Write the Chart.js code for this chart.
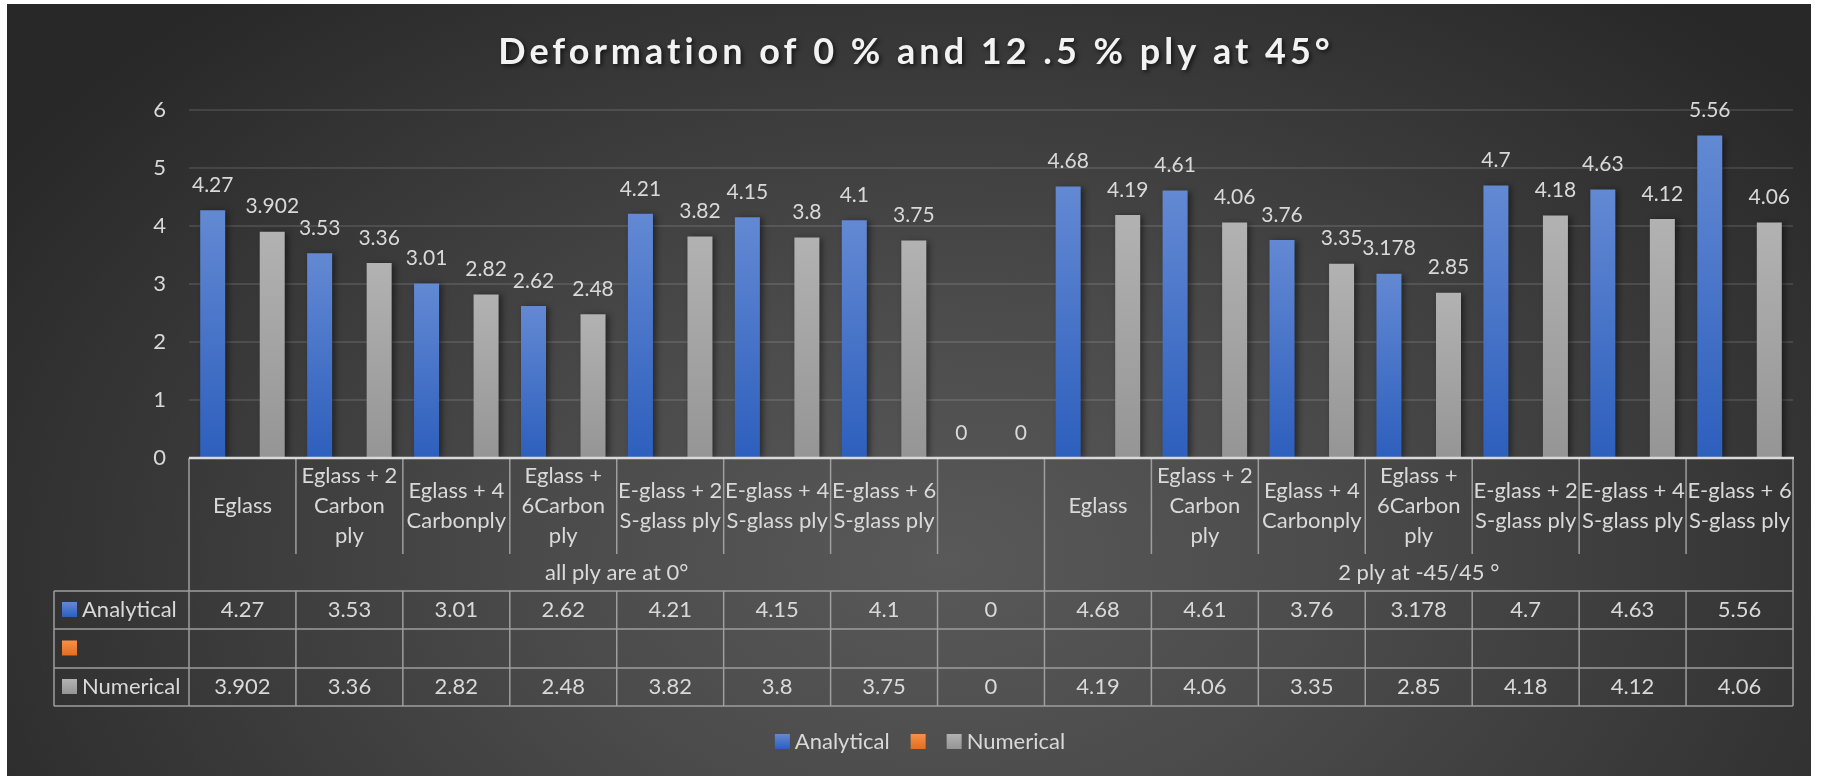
<!DOCTYPE html>
<html>
<head>
<meta charset="utf-8">
<title>Deformation chart</title>
<script src="https://cdn.jsdelivr.net/npm/chart.js"></script>
<style>
    html, body { margin: 0; padding: 0; background: #ffffff; }
    #wrap { position: relative; width: 1828px; height: 776px; overflow: hidden; }
    #panel {
        position: absolute; left: 7px; top: 4px; width: 1804px; height: 772px;
        background: radial-gradient(ellipse 62% 95% at 52% 72%, #595959 0%, #4b4b4b 35%, #383838 70%, #282828 100%);
    }
    #chart { position: absolute; left: 0; top: 0; }
</style>
</head>
<body>
<div id="wrap">
    <div id="panel"></div>
    <canvas id="chart" width="1828" height="776"></canvas>
</div>
<script>
// Chart data
const titleText = 'Deformation of 0 % and 12 .5 % ply at 45°';
const categories = [
    ['Eglass'], ['Eglass + 2', 'Carbon', 'ply'], ['Eglass + 4', 'Carbonply'], ['Eglass +', '6Carbon', 'ply'],
    ['E-glass + 2', 'S-glass ply'], ['E-glass + 4', 'S-glass ply'], ['E-glass + 6', 'S-glass ply'], [''],
    ['Eglass'], ['Eglass + 2', 'Carbon', 'ply'], ['Eglass + 4', 'Carbonply'], ['Eglass +', '6Carbon', 'ply'],
    ['E-glass + 2', 'S-glass ply'], ['E-glass + 4', 'S-glass ply'], ['E-glass + 6', 'S-glass ply']
];
const groupLabels = ['all ply are at 0°', '2 ply at -45/45 °'];
const groupSizes = [8, 7];
const analytical = [4.27, 3.53, 3.01, 2.62, 4.21, 4.15, 4.1, 0, 4.68, 4.61, 3.76, 3.178, 4.7, 4.63, 5.56];
const emptySeries = [null, null, null, null, null, null, null, null, null, null, null, null, null, null, null];
const numerical = [3.902, 3.36, 2.82, 2.48, 3.82, 3.8, 3.75, 0, 4.19, 4.06, 3.35, 2.85, 4.18, 4.12, 4.06];
const yMin = 0, yMax = 6, yStep = 1;

const FONT = 'Lato, "Open Sans", sans-serif';
const TEXT = '#d9d9d9';

// gradient colours per series: [top, bottom]
const seriesShades = [['#6389d3', '#2d5fbd'], ['#f79148', '#e46c1f'], ['#b2b2b2', '#959595']];

function barGradient(c, shades) {
    const chart = c.chart;
    const y = chart.scales.y;
    if (!y || c.raw == null) return shades[0];
    const top = y.getPixelForValue(c.raw);
    const bottom = y.getPixelForValue(0);
    if (!(bottom - top > 0)) return shades[0];
    const g = chart.ctx.createLinearGradient(0, top, 0, bottom);
    g.addColorStop(0, shades[0]);
    g.addColorStop(1, shades[1]);
    return g;
}

function swatch(ctx, x, y, size, shades) {
    const g = ctx.createLinearGradient(0, y, 0, y + size);
    g.addColorStop(0, shades[0]);
    g.addColorStop(1, shades[1]);
    ctx.fillStyle = g;
    ctx.fillRect(x, y, size, size);
}

// Title with letter spacing and soft shadow
const titlePlugin = {
    id: 'fancyTitle',
    afterDraw(chart) {
        const ctx = chart.ctx;
        ctx.save();
        ctx.font = 'bold 36px ' + FONT;
        ctx.letterSpacing = '4px';
        ctx.fillStyle = '#f2f2f2';
        ctx.textAlign = 'center';
        ctx.textBaseline = 'alphabetic';
        ctx.shadowColor = 'rgba(0,0,0,0.65)';
        ctx.shadowBlur = 4;
        ctx.shadowOffsetX = 2;
        ctx.shadowOffsetY = 2;
        ctx.fillText(titleText, 916, 64);
        ctx.restore();
    }
};

// Bar shadows + value labels above bars
const valuePlugin = {
    id: 'values',
    beforeDatasetsDraw(chart) {
        const ctx = chart.ctx;
        ctx.save();
        ctx.shadowColor = 'rgba(0,0,0,0.45)';
        ctx.shadowBlur = 6;
        ctx.shadowOffsetX = 3;
        ctx.shadowOffsetY = 1;
    },
    afterDatasetsDraw(chart) {
        const ctx = chart.ctx;
        ctx.restore();
        ctx.save();
        ctx.font = '21px ' + FONT;
        ctx.fillStyle = TEXT;
        ctx.textAlign = 'center';
        ctx.textBaseline = 'middle';
        chart.data.datasets.forEach((ds, di) => {
            const meta = chart.getDatasetMeta(di);
            meta.data.forEach((bar, i) => {
                const v = ds.data[i];
                if (v == null) return;
                ctx.fillText(String(v), bar.x, bar.y - 25);
            });
        });
        ctx.restore();
    }
};

// Excel-style data table under the plot, plus the bottom legend
const tablePlugin = {
    id: 'dataTable',
    afterDraw(chart) {
        const ctx = chart.ctx;
        const xs = chart.scales.x;
        const area = chart.chartArea;
        const n = chart.data.labels.length;
        const colW = (area.right - area.left) / n;
        const top = area.bottom;
        const catBottom = top + 96;
        const groupBottom = top + 133;
        const rowTops = [groupBottom, groupBottom + 38, groupBottom + 77, groupBottom + 115];
        const keyLeft = 54;
        const colLeft = i => xs.getPixelForValue(i) - colW / 2;

        ctx.save();
        ctx.strokeStyle = '#9e9e9e';
        ctx.lineWidth = 1.5;
        const line = (x1, y1, x2, y2) => {
            ctx.beginPath();
            ctx.moveTo(x1, y1);
            ctx.lineTo(x2, y2);
            ctx.stroke();
        };

        // category cell separators
        for (let i = 0; i <= n; i++) {
            const x = i === n ? area.right : colLeft(i);
            line(x, top, x, catBottom);
            line(x, rowTops[0], x, rowTops[3]);
        }
        // group separators
        let acc = 0;
        groupSizes.forEach(s => {
            const x = colLeft(acc);
            line(x, catBottom, x, groupBottom);
            acc += s;
        });
        line(area.right, catBottom, area.right, groupBottom);
        // series rows
        rowTops.forEach(y => line(keyLeft, y, area.right, y));
        line(keyLeft, rowTops[0], keyLeft, rowTops[3]);

        // axis line on top
        ctx.strokeStyle = '#d9d9d9';
        ctx.lineWidth = 2.5;
        line(area.left, top, area.right + 1, top);

        // category text
        ctx.fillStyle = TEXT;
        ctx.font = '22px ' + FONT;
        ctx.textAlign = 'center';
        ctx.textBaseline = 'middle';
        categories.forEach((lines, i) => {
            const cx = xs.getPixelForValue(i);
            const mid = (top + catBottom) / 2;
            lines.forEach((t, k) => {
                ctx.fillText(t, cx, mid + (k - (lines.length - 1) / 2) * 30);
            });
        });
        // group text
        acc = 0;
        groupLabels.forEach((g, gi) => {
            const x1 = colLeft(acc);
            acc += groupSizes[gi];
            const x2 = acc >= n ? area.right : colLeft(acc);
            ctx.fillText(g, (x1 + x2) / 2, (catBottom + groupBottom) / 2);
        });
        // series rows: key, name, values
        chart.data.datasets.forEach((ds, di) => {
            const y1 = rowTops[di], y2 = rowTops[di + 1];
            const cy = (y1 + y2) / 2;
            swatch(ctx, 62, cy - 8, 15, seriesShades[di]);
            ctx.fillStyle = TEXT;
            ctx.textAlign = 'left';
            ctx.fillText(ds.label, 82, cy);
            ctx.textAlign = 'center';
            ds.data.forEach((v, i) => {
                if (v == null) return;
                ctx.fillText(String(v), xs.getPixelForValue(i), cy);
            });
        });

        // legend
        const box = 15, gapText = 5, gapItem = 21;
        const widths = chart.data.datasets.map(ds => box + (ds.label ? gapText + ctx.measureText(ds.label).width : 0));
        const total = widths.reduce((a, b) => a + b, 0) + gapItem * (widths.length - 1);
        let lx = 920 - total / 2;
        const ly = 742;
        ctx.textAlign = 'left';
        chart.data.datasets.forEach((ds, di) => {
            swatch(ctx, lx, ly - 8, box, seriesShades[di]);
            if (ds.label) {
                ctx.fillStyle = TEXT;
                ctx.fillText(ds.label, lx + box + gapText, ly);
            }
            lx += widths[di] + gapItem;
        });
        ctx.restore();
    }
};

const chart = new Chart(document.getElementById('chart').getContext('2d'), {
    type: 'bar',
    data: {
        labels: categories.map(c => c.join(' ')),
        datasets: [
            { label: 'Analytical', data: analytical, backgroundColor: c => barGradient(c, seriesShades[0]) },
            { label: '', data: emptySeries, backgroundColor: c => barGradient(c, seriesShades[1]) },
            { label: 'Numerical', data: numerical, backgroundColor: c => barGradient(c, seriesShades[2]) }
        ]
    },
    options: {
        responsive: false,
        animation: false,
        layout: { padding: { left: 0, right: 35, top: 110, bottom: 318 } },
        datasets: { bar: { categoryPercentage: 0.835, barPercentage: 0.84 } },
        scales: {
            x: { display: false },
            y: {
                min: yMin, max: yMax,
                ticks: { stepSize: yStep, color: TEXT, font: { family: FONT, size: 22 }, padding: 23 },
                grid: { color: 'rgba(255,255,255,0.11)', lineWidth: 2, drawTicks: false },
                border: { display: false },
                afterFit: s => { s.width = 189; }
            }
        },
        plugins: {
            legend: { display: false },
            title: { display: false },
            tooltip: { enabled: false }
        }
    },
    plugins: [valuePlugin, tablePlugin, titlePlugin]
});
</script>
</body>
</html>
